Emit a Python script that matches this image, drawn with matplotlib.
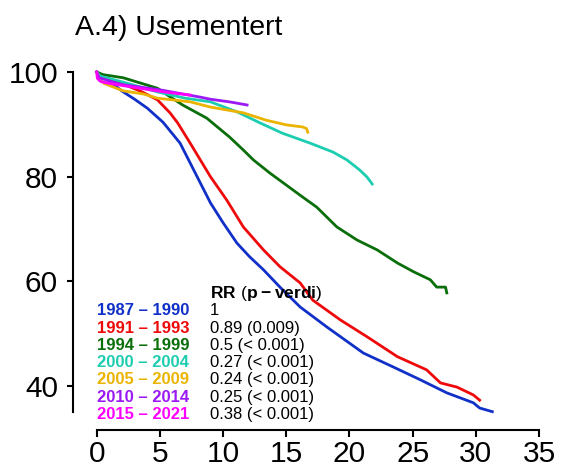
import numpy as np
import matplotlib
matplotlib.use("Agg")
import matplotlib.pyplot as plt

plt.rcParams['font.family'] = ['Liberation Sans', 'DejaVu Sans']
plt.rcParams['mathtext.fontset'] = 'custom'
plt.rcParams['mathtext.rm'] = 'Liberation Sans'
plt.rcParams['mathtext.bf'] = 'Liberation Sans:bold'

#--------------Data--------------------------------#
# survival (%) against years since diagnosis, one curve per period

t_8790 = [0, 0.3, 1, 2.1, 3.0, 4.0, 5.25, 6.6, 8.2, 9.0, 10.0, 11.1, 12.1, 13.2, 14.5,
          16.1, 18.2, 21.1, 23.5, 25.6, 27.7, 29.8, 30.3, 31.3]
s_8790 = [100, 99.2, 98.2, 96.2, 94.8, 93.1, 90.4, 86.4, 78.8, 75.0, 71.2, 67.3, 64.7, 62.2, 58.9,
          55.1, 51.3, 46.3, 43.6, 41.2, 38.7, 36.8, 35.8, 35.1]

t_9193 = [0, 0.5, 2, 3.5, 4.8, 5.8, 6.4, 7.4, 9.0, 10.3, 11.6, 13.2, 14.5, 16.1, 17.1,
          19.3, 21.4, 23.8, 26.1, 27.2, 28.5, 29.8, 30.3]
s_9193 = [100, 99.0, 97.8, 96.3, 94.7, 92.2, 90.3, 86.4, 80.0, 75.5, 70.4, 66.0, 62.8, 59.7, 56.4,
          52.6, 49.4, 45.6, 43.1, 40.6, 39.8, 38.3, 37.3]

t_9499 = [0, 0.5, 2.1, 4.8, 5.6, 6.8, 8.7, 10.5, 11.6, 12.4, 13.7, 15.0, 16.3, 17.4, 19.0,
          20.6, 22.2, 23.8, 25.1, 26.4, 26.9, 27.6, 27.7]
s_9499 = [100, 99.5, 98.9, 96.9, 95.6, 93.7, 91.2, 87.6, 85.1, 83.2, 80.7, 78.4, 76.1, 74.2, 70.4,
          67.9, 66.0, 63.5, 61.8, 60.3, 58.9, 58.9, 57.8]

t_0004 = [0, 0.3, 0.8, 2.5, 4.8, 7.0, 9.0, 11.1, 12.9, 14.7, 16.9, 18.7, 19.8, 20.8, 21.4, 21.8]
s_0004 = [100, 99.2, 98.9, 97.8, 96.2, 95.0, 94.3, 92.4, 90.3, 88.3, 86.4, 84.7, 83.2, 81.3, 79.9, 78.6]

t_0509 = [0, 0.2, 0.6, 2.1, 3.7, 4.8, 7.4, 9.0, 11.6, 13.4, 15.0, 16.3, 16.6, 16.7]
s_0509 = [100, 98.8, 97.8, 96.4, 95.8, 95.0, 94.3, 93.3, 92.2, 90.8, 89.9, 89.5, 89.2, 88.5]

t_1014 = [0, 0.2, 2.0, 5.0, 8.2, 9.0, 10.5, 11.9]
s_1014 = [100, 98.9, 97.6, 96.6, 95.2, 94.8, 94.3, 93.7]

t_1521 = [0, 0.05, 0.3, 0.8, 3.4, 5.3, 7.4]
s_1521 = [100, 98.8, 98.2, 97.9, 96.9, 96.2, 95.6]

periods = ["1987 – 1990", "1991 – 1993", "1994 – 1999", "2000 – 2004",
           "2005 – 2009", "2010 – 2014", "2015 – 2021"]
rr_text = ["1", "0.89 (0.009)", "0.5 (< 0.001)", "0.27 (< 0.001)",
           "0.24 (< 0.001)", "0.25 (< 0.001)", "0.38 (< 0.001)"]
colors = ["#1030C8", "#EE0A0A", "#0A6E0A", "#1DCDB0", "#EAB400", "#9B19F5", "#FF00FF"]

curves = [(t_8790, s_8790), (t_9193, s_9193), (t_9499, s_9499), (t_0004, s_0004),
          (t_0509, s_0509), (t_1014, s_1014), (t_1521, s_1521)]

x_ticks = [0, 5, 10, 15, 20, 25, 30, 35]
y_ticks = [40, 60, 80, 100]

#--------------Plotting----------------------------#

fig = plt.figure(figsize=(5.68, 4.68), dpi=100)
ax = fig.add_axes([0.1285, 0.0812, 0.9713 - 0.1285, 0.8573 - 0.0812])

for (t, s), c in zip(curves, colors):
    ax.plot(t, s, color=c, lw=2.0, solid_joinstyle='round')

ax.set_xlim(-1.875, 36)
ax.set_ylim(31.6, 101)

for side in ['top', 'right']:
    ax.spines[side].set_visible(False)
ax.spines['left'].set_bounds(35, 100)
ax.spines['bottom'].set_bounds(0, 35)
ax.spines['left'].set_linewidth(1.5)
ax.spines['bottom'].set_linewidth(1.5)

ax.set_xticks(x_ticks)
ax.set_yticks(y_ticks)
ax.tick_params(axis='x', direction='out', length=5, width=1.5, pad=2.5, labelsize=21.5)
ax.tick_params(axis='y', direction='out', length=4.3, width=1.5, pad=6.5, labelsize=21.5)

# period labels and relative risks
y0 = 54.35
dy = 3.29
ax.text(8.97, y0 + dy, r"$\mathbf{RR}\ (\mathbf{p - verdi})$", fontsize=12.5, va='center', ha='left')
for i, (p, rr, c) in enumerate(zip(periods, rr_text, colors)):
    y = y0 - i * dy
    ax.text(0.02, y, p, color=c, fontsize=12, fontweight='bold', va='center', ha='left')
    ax.text(8.97, y, rr, color='black', fontsize=12, va='center', ha='left')

fig.text(75 / 568, (468 - 35) / 468, "A.4) Usementert", fontsize=20.5, va='baseline', ha='left')

plt.savefig("out.png", dpi=100)
